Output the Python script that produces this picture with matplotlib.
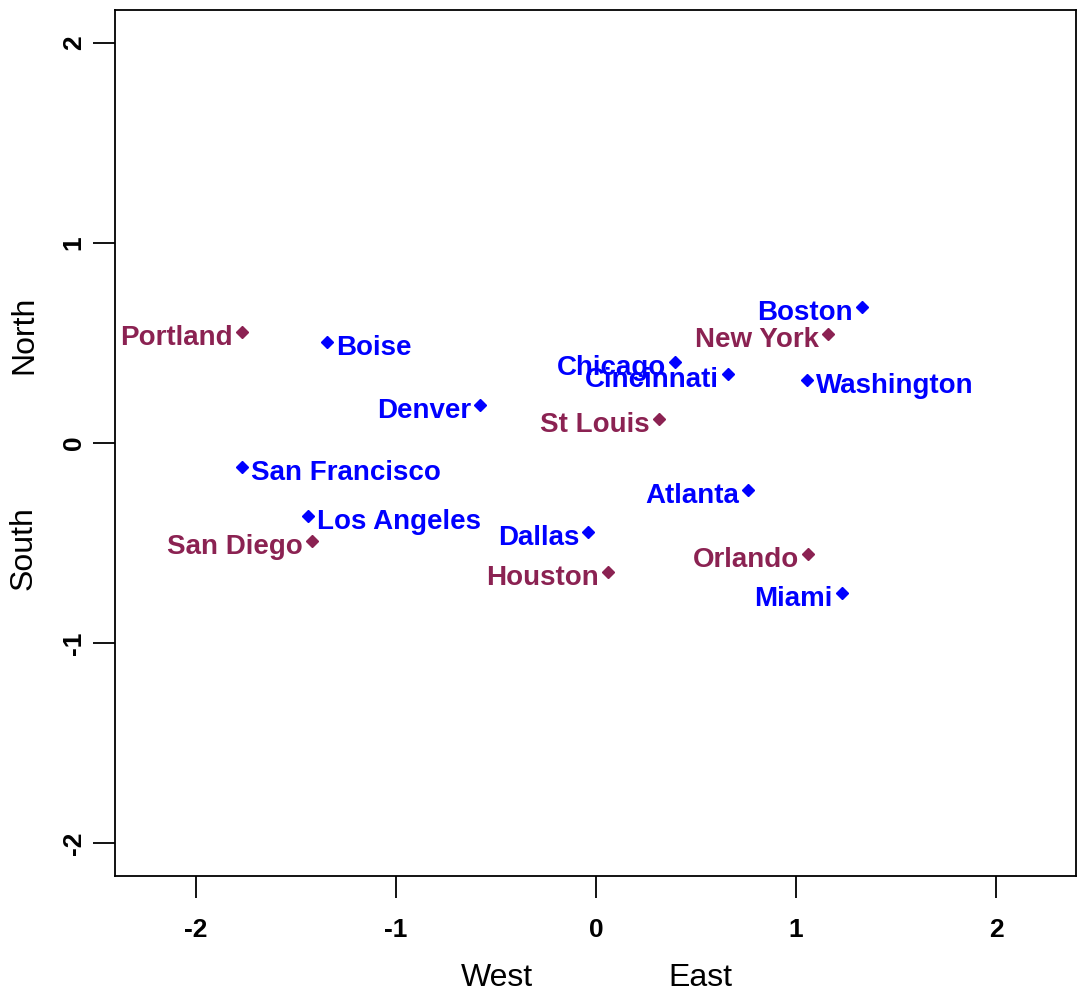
import matplotlib
matplotlib.use("Agg")
import matplotlib.pyplot as plt

cities = ["Portland", "Boise", "Denver", "San Francisco", "Los Angeles", "San Diego",
          "Dallas", "Houston", "St Louis", "Chicago", "Cincinnati", "Boston",
          "New York", "Washington", "Atlanta", "Orlando", "Miami"]
xs = [-1.77, -1.345, -0.58, -1.77, -1.44, -1.42, -0.04, 0.06, 0.315, 0.395, 0.66,
      1.33, 1.16, 1.055, 0.76, 1.06, 1.23]
ys = [0.555, 0.505, 0.19, -0.12, -0.365, -0.49, -0.445, -0.645, 0.12, 0.405, 0.345,
      0.68, 0.545, 0.315, -0.235, -0.555, -0.75]
groups = ["b", "a", "a", "a", "a", "b", "a", "b", "b", "a", "a", "a", "b", "a", "a", "b", "a"]
sides = ["L", "R", "L", "R", "R", "L", "L", "L", "L", "L", "L", "L", "L", "R", "L", "L", "L"]
colors = {"a": "#0000FF", "b": "#8B2252"}
ticks = [-2, -1, 0, 1, 2]

plt.rcParams['font.family'] = ['Liberation Sans', 'DejaVu Sans']
fig = plt.figure(figsize=(10.79, 9.94), dpi=100)
ax = fig.add_axes([115/1079, 1-876/994, (1076-115)/1079, (876-10)/994])
ax.set_xlim(-2.405, 2.4)
ax.set_ylim(-2.165, 2.165)

for x, y, name, g, s in zip(xs, ys, cities, groups, sides):
    c = colors[g]
    ax.plot(x, y, marker="D", markersize=5.8, color=c, linestyle="none")
    dx = -9 if s == "L" else 9
    ax.annotate(name, (x, y), xytext=(dx, -13), textcoords="offset pixels",
                ha="right" if s == "L" else "left", va="baseline", color=c,
                fontsize=20, fontweight="bold")

ax.set_xticks(ticks)
ax.set_yticks(ticks)
ax.set_xticklabels([str(t) for t in ticks], fontsize=19, fontweight="bold")
ax.set_yticklabels([str(t) for t in ticks], fontsize=19, fontweight="bold",
                   rotation=90, va="center")
ax.tick_params(direction="out", length=16, width=1.3)
ax.tick_params(axis="x", pad=14)
ax.tick_params(axis="y", pad=5)
for sp in ax.spines.values():
    sp.set_linewidth(1.3)

fig.text(497/1079, 1-978/994, "West", ha="center", va="center", fontsize=23)
fig.text(700/1079, 1-978/994, "East", ha="center", va="center", fontsize=23)
fig.text(24/1079, 1-335/994, "North", ha="center", va="center", fontsize=23, rotation=90)
fig.text(24/1079, 1-548/994, "South", ha="center", va="center", fontsize=23, rotation=90)

fig.savefig("out.png", dpi=100)
